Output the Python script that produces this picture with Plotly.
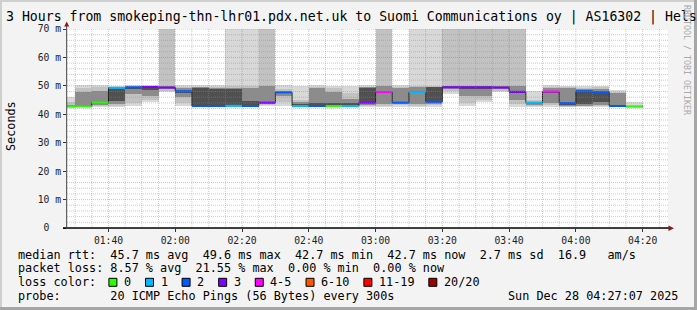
import numpy as np
import pandas as pd
import plotly.graph_objects as go

# ---------------- data ----------------
step_end = pd.date_range("2025-12-28 01:30:00", periods=35, freq="5min")

median_ms = [42.7, 42.8, 44.2, 49.3, 49.5, 49.6, 49.4, 48.1, 42.9, 42.9,
             43.0, 42.9, 44.1, 47.7, 42.9, 42.9, 42.9, 42.9, 44.1, 47.8,
             44.1, 47.8, 44.4, 49.5, 49.5, 49.5, 49.4, 47.9, 44.1, 48.0,
             43.9, 48.1, 47.8, 42.9, 42.7]

loss_count = [0, 0, 0, 1, 2, 3, 3, 2, 2, 2,
              1, 2, 3, 2, 1, 2, 0, 1, 3, 4,
              2, 1, 2, 3, 3, 3, 3, 3, 1, 4,
              2, 2, 2, 2, 0]

# sorted ping quantiles (ms) per step -> smoke bands
smoke_q0 = [42.6, 42.7, 42.8, 42.8, 43.0, 44.4, 47.9, 42.9, 42.7, 42.7, 42.8, 42.7, 43.0, 42.9, 42.8, 42.7, 42.7, 42.8,
            42.9, 42.9, 42.9, 42.9, 42.9, 47.2, 42.9, 44.5, 47.9, 42.9, 42.9, 42.9, 42.8, 42.8, 42.8, 42.8, 42.6]
smoke_q1 = [42.7, 42.8, 43.0, 43.0, 44.0, 45.0, 48.5, 44.0, 42.8, 42.8, 42.9, 42.8, 43.5, 44.3, 42.9, 42.8, 42.8, 42.9,
            43.2, 43.2, 43.3, 43.2, 43.3, 48.5, 44.0, 45.0, 48.5, 43.5, 43.2, 43.3, 42.9, 43.0, 43.0, 42.9, 42.7]
smoke_q2 = [42.8, 42.8, 43.3, 43.5, 47.0, 46.5, 49.0, 46.0, 42.9, 42.9, 43.0, 42.9, 43.9, 46.5, 43.0, 42.9, 42.9, 43.0,
            43.6, 43.5, 43.7, 43.5, 43.9, 49.2, 46.5, 46.5, 49.0, 45.0, 43.6, 44.0, 43.2, 43.2, 43.5, 43.0, 42.7]
smoke_q3 = [42.9, 42.9, 44.0, 44.6, 49.0, 48.5, 49.3, 47.8, 43.0, 43.0, 43.2, 43.1, 44.1, 47.6, 43.2, 43.0, 43.0, 43.2,
            44.0, 47.6, 44.0, 47.8, 44.3, 49.4, 49.2, 49.2, 49.3, 47.7, 44.0, 47.8, 43.5, 43.5, 44.2, 43.1, 42.8]
smoke_q4 = [43.1, 43.0, 44.4, 49.2, 49.5, 49.5, 49.5, 48.3, 49.3, 49.2, 49.0, 44.8, 44.4, 47.9, 43.5, 44.0, 44.0, 44.0,
            49.3, 48.0, 44.3, 48.1, 49.6, 49.6, 49.5, 49.5, 49.5, 48.0, 44.3, 48.2, 44.0, 48.2, 47.9, 43.3, 42.9]
smoke_q5 = [43.6, 48.0, 48.2, 49.4, 49.7, 49.7, 50.0, 49.3, 49.6, 49.5, 49.5, 49.4, 49.8, 48.3, 44.5, 49.5, 48.0, 45.5,
            49.6, 49.8, 49.5, 49.8, 49.8, 50.0, 50.0, 50.0, 50.0, 50.0, 44.6, 49.3, 49.3, 49.0, 49.2, 47.5, 43.2]
smoke_q6 = [44.3, 49.3, 49.5, 49.6, 49.8, 49.9, 75.0, 49.8, 49.8, 49.8, 50.0, 50.0, 75.0, 48.8, 45.2, 49.8, 49.3, 47.5,
            49.8, 80.0, 49.8, 50.0, 50.0, 75.0, 75.0, 75.0, 75.0, 75.0, 45.0, 49.7, 49.7, 49.5, 49.6, 48.0, 43.6]
smoke_q7 = [46.0, 50.2, 50.4, 49.8, 50.0, 50.1, 90.0, 50.3, 50.1, 50.0, 80.0, 80.0, 90.0, 50.2, 49.8, 50.1, 49.9, 49.8,
            50.0, 90.0, 50.0, 80.0, 80.0, 90.0, 90.0, 90.0, 90.0, 90.0, 48.3, 50.0, 49.9, 49.9, 49.9, 48.3, 44.3]

loss_labels = ["0", "1", "2", "3", "4-5", "6-10", "11-19", "20/20"]
loss_upper = [0, 1, 2, 3, 5, 10, 19, 20]
loss_colors = ["#26ff00", "#00b8ff", "#0059ff", "#7e00ff", "#ff00ff", "#ff5500", "#ff0000", "#a10000"]

y_ticks = [0, 10, 20, 30, 40, 50, 60, 70]
y_ticktext = ["0\u00a0\u00a0", "10 m", "20 m", "30 m", "40 m", "50 m", "60 m", "70 m"]

title_text = "3 Hours from smokeping-thn-lhr01.pdx.net.uk to Suomi Communications oy | AS16302 | Hels"
legend_lines = [
    "median rtt:  45.7 ms avg  49.6 ms max  42.7 ms min  42.7 ms now  2.7 ms sd  16.9   am/s",
    "packet loss: 8.57 % avg  21.55 % max  0.00 % min  0.00 % now",
    "loss color:",
    "probe:       20 ICMP Echo Pings (56 Bytes) every 300s",
]
date_text = "Sun Dec 28 04:27:07 2025"

# ---------------- geometry helpers ----------------
W, H = 697, 310
L, R, T, B = 67, 29, 29, 82
PW, PH = W - L - R, H - T - B


def px(x):
    return (x - L) / PW


def py(y):
    return (H - B - y) / PH


MONO = "DejaVu Sans Mono"
nb = lambda s: s.replace(" ", "\u00a0")

fig = go.Figure()

# ---------------- smoke ----------------
q = [smoke_q0, smoke_q1, smoke_q2, smoke_q3, smoke_q4, smoke_q5, smoke_q6, smoke_q7]
for arr in q:
    assert len(arr) == len(step_end)
band_gray = ["#d8d8d8", "#c2c2c2", "#8c8c8c", "#505050", "#8c8c8c", "#c2c2c2", "#d8d8d8"]
centers = step_end - pd.Timedelta(minutes=2.5)
for j in range(7):
    lo = np.array(q[j])
    hi = np.array(q[j + 1])
    fig.add_trace(go.Bar(x=centers, y=hi - lo, base=lo, width=300000,
                         marker=dict(color=band_gray[j], line=dict(width=0)),
                         showlegend=False, hoverinfo="skip"))

# ---------------- median line ----------------
starts = step_end - pd.Timedelta(minutes=5)
fig.add_trace(go.Scatter(x=list(starts) + [step_end[-1]], y=median_ms + [median_ms[-1]],
                         mode="lines", line=dict(shape="hv", color="#202020", width=1),
                         showlegend=False, hoverinfo="skip"))


def loss_class(n):
    for k, u in enumerate(loss_upper):
        if n <= u:
            return k
    return len(loss_upper) - 1


for k in range(len(loss_labels)):
    sx, sy = [], []
    for i in range(len(step_end)):
        if loss_class(loss_count[i]) == k:
            sx += [starts[i], step_end[i], None]
            sy += [median_ms[i], median_ms[i], None]
    if sx:
        fig.add_trace(go.Scatter(x=sx, y=sy, mode="lines",
                                 line=dict(color=loss_colors[k], width=2),
                                 showlegend=False, hoverinfo="skip"))

# ---------------- grid (drawn above smoke like rrdtool) ----------------
shapes = []
minor_col = "rgba(140,140,140,0.45)"
major_col = "rgba(255,0,0,0.3)"
for t in pd.date_range("2025-12-28 01:30", "2025-12-28 04:25", freq="5min"):
    major = (t.minute % 20 == 0)
    shapes.append(dict(type="line", xref="x", yref="y domain", x0=t, x1=t, y0=0, y1=1,
                       line=dict(color=major_col if major else minor_col, width=1, dash="1px,1px"),
                       layer="above"))
for v in range(2, 71, 2):
    major = (v % 10 == 0)
    shapes.append(dict(type="line", xref="x domain", yref="y", x0=0, x1=1, y0=v, y1=v,
                       line=dict(color=major_col if major else minor_col, width=1, dash="1px,1px"),
                       layer="above"))

# axes lines and arrows
shapes.append(dict(type="line", xref="paper", yref="paper", x0=px(63), x1=px(669), y0=py(228), y1=py(228),
                   line=dict(color="#000000", width=1.5), layer="above"))
shapes.append(dict(type="line", xref="paper", yref="paper", x0=px(66.7), x1=px(66.7), y0=py(228), y1=py(24),
                   line=dict(color="#404040", width=1), layer="above"))
shapes.append(dict(type="path", xref="paper", yref="paper", layer="above",
                   path=f"M {px(64.2)},{py(26.5)} L {px(69.2)},{py(26.5)} L {px(66.7)},{py(21.5)} Z",
                   fillcolor="#8b1a1a", line=dict(width=0)))
shapes.append(dict(type="path", xref="paper", yref="paper", layer="above",
                   path=f"M {px(668.5)},{py(225.5)} L {px(668.5)},{py(231)} L {px(674)},{py(228.2)} Z",
                   fillcolor="#8b1a1a", line=dict(width=0)))

# frame
shapes.append(dict(type="rect", xref="paper", yref="paper", x0=px(0), x1=px(697), y0=py(0), y1=py(2),
                   fillcolor="#cfcfcf", line=dict(width=0), layer="above"))
shapes.append(dict(type="rect", xref="paper", yref="paper", x0=px(0), x1=px(2), y0=py(0), y1=py(310),
                   fillcolor="#cfcfcf", line=dict(width=0), layer="above"))
shapes.append(dict(type="rect", xref="paper", yref="paper", x0=px(694), x1=px(697), y0=py(0), y1=py(310),
                   fillcolor="#a6a6a6", line=dict(width=0), layer="above"))
shapes.append(dict(type="rect", xref="paper", yref="paper", x0=px(0), x1=px(697), y0=py(307), y1=py(310),
                   fillcolor="#a6a6a6", line=dict(width=0), layer="above"))

# ---------------- text ----------------
ann = []
ann.append(dict(text=nb(title_text), x=px(4), y=py(17.5), xref="paper", yref="paper",
                xanchor="left", yanchor="middle", showarrow=False,
                font=dict(family=MONO, size=13.2, color="#000000")))
ann.append(dict(text="Seconds", x=px(11), y=py(126), xref="paper", yref="paper",
                xanchor="center", yanchor="middle", showarrow=False, textangle=-90,
                font=dict(family=MONO, size=11.8, color="#000000")))
ann.append(dict(text=nb("RRDTOOL / TOBI OETIKER"), x=px(687), y=py(60), xref="paper", yref="paper",
                xanchor="center", yanchor="middle", showarrow=False, textangle=90,
                font=dict(family=MONO, size=8.3, color="#aaaaaa")))
line_y = [255, 268.3, 282.3, 296]
for s, yy in zip(legend_lines, line_y):
    ann.append(dict(text=nb(s), x=px(16), y=py(yy), xref="paper", yref="paper",
                    xanchor="left", yanchor="middle", showarrow=False,
                    font=dict(family=MONO, size=11.8, color="#000000")))
ann.append(dict(text=nb(date_text), x=px(680), y=py(296), xref="paper", yref="paper",
                xanchor="right", yanchor="middle", showarrow=False,
                font=dict(family=MONO, size=11.8, color="#000000")))

# loss colour boxes
cw = 7.09
cursor = 108.9
for lab, col in zip(loss_labels, loss_colors):
    shapes.append(dict(type="rect", xref="paper", yref="paper", x0=px(cursor), x1=px(cursor + 8),
                       y0=py(278.3), y1=py(286.3), fillcolor=col,
                       line=dict(color="#000000", width=1), layer="above"))
    lx = cursor + 13.2
    ann.append(dict(text=lab, x=px(lx), y=py(282.3), xref="paper", yref="paper",
                    xanchor="left", yanchor="middle", showarrow=False,
                    font=dict(family=MONO, size=11.8, color="#000000")))
    cursor = lx + len(lab) * cw + 16.3

fig.update_layout(
    width=W, height=H, autosize=False,
    margin=dict(l=L, r=R, t=T, b=B, pad=0),
    paper_bgcolor="#f3f3f3", plot_bgcolor="#ffffff",
    barmode="overlay", bargap=0, showlegend=False,
    shapes=shapes, annotations=ann,
    xaxis=dict(type="date", range=["2025-12-28 01:27:35", "2025-12-28 04:27:35"],
               tick0="2025-12-28 01:40", dtick=1200000, tickformat="%H:%M",
               showgrid=False, zeroline=False, showline=False,
               ticks="outside", ticklen=3, tickcolor="#333333",
               tickfont=dict(family=MONO, size=9.7, color="#222222"), fixedrange=True),
    yaxis=dict(range=[0, 70], tickvals=y_ticks, ticktext=y_ticktext,
               showgrid=False, zeroline=False, showline=False,
               ticks="outside", ticklen=3, tickcolor="#333333",
               tickfont=dict(family=MONO, size=9.7, color="#222222"), fixedrange=True),
)

fig.write_html("out.html")
